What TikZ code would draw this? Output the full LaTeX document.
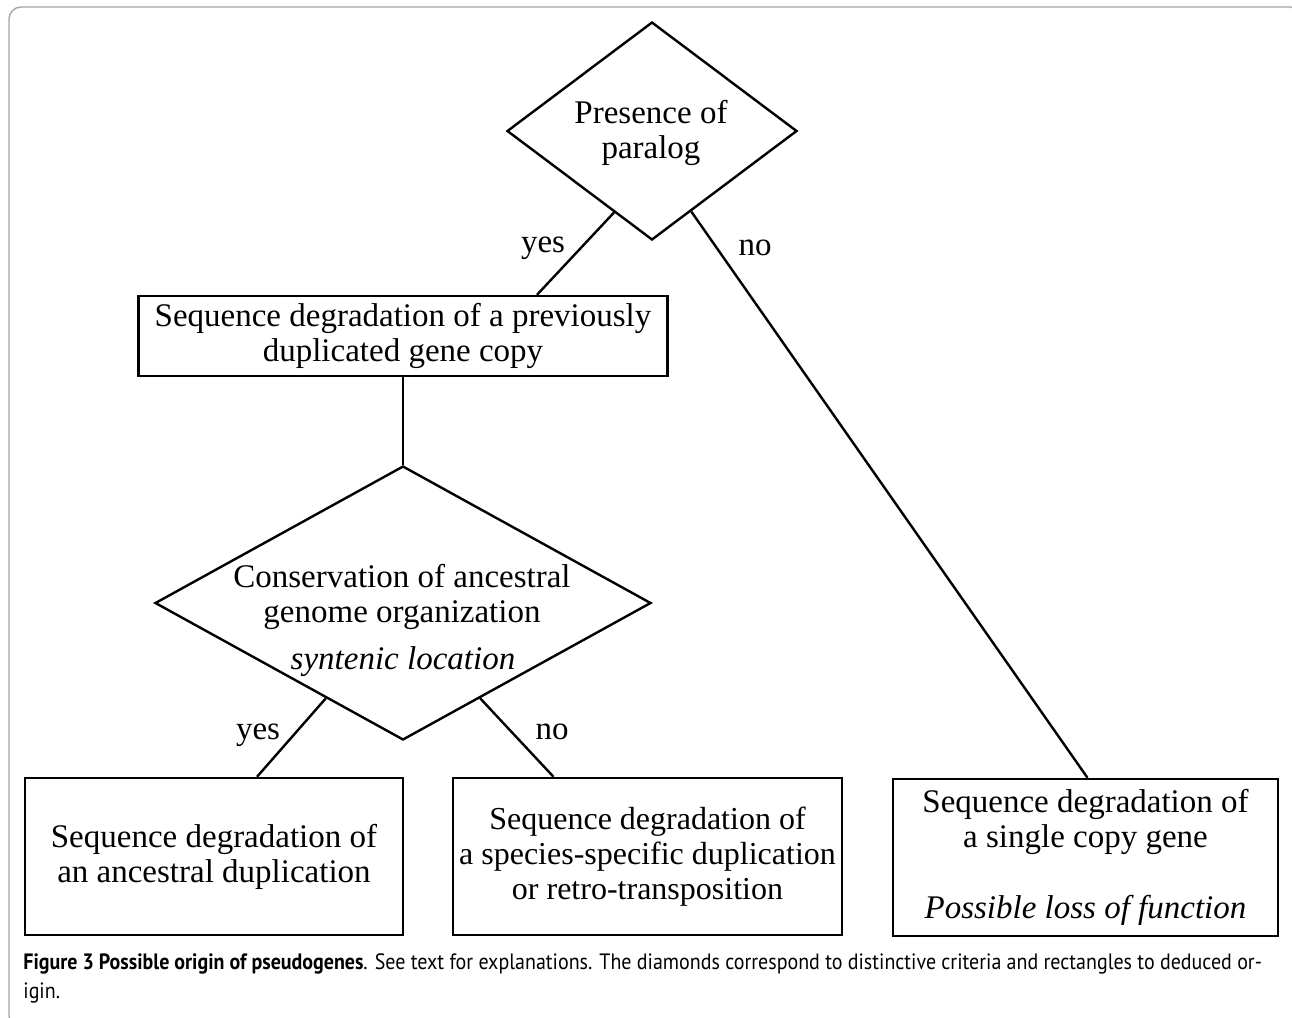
\documentclass[tikz,border=0pt]{standalone}
\usepackage{fontspec}
\setmainfont{Liberation Serif}
\newfontfamily\capfont[FakeStretch=0.9]{PT Sans}
\usetikzlibrary{shapes.geometric}

\begin{document}
\begin{tikzpicture}[x=0.5pt,y=-0.5pt,
  every node/.style={font=\fontsize{16.5}{17.5}\selectfont},
  crit/.style={draw, diamond, inner sep=0pt, line width=1.2pt},
  origin/.style={draw, rectangle, inner sep=0pt, line width=1.2pt, align=center},
  link/.style={line width=1.2pt},
  capline/.style={anchor=base west, inner sep=0pt, font=\capfont\fontsize{11.1}{14.5}\selectfont}]
\useasboundingbox (0,0) rectangle (1292,1018);
% draw the outer frame
\draw[gray!70, line width=0.7pt, rounded corners=6pt] (9,7) rectangle (1302,1028);

% draw the criteria (diamonds)
\node[crit, minimum width=145pt, minimum height=109pt] (paralog) at (652,131) {};
\node[align=center] (paralogT) at (651,133) {Presence of\\paralog};
\node[crit, minimum width=248pt, minimum height=137pt] (cons) at (403,603) {};
\node[align=center] (consT) at (402,597) {Conservation of ancestral\\genome organization};
\node (synt) at (403,662) {\itshape syntenic location};

% draw the deduced origins (rectangles)
\node[origin, minimum width=264.5pt, minimum height=40pt] (dup) at (403,336)
  {Sequence degradation of a previously\\duplicated gene copy};
\node[origin, minimum width=189pt, minimum height=78.5pt] (ancestral) at (214,856.5)
  {Sequence degradation of\\an ancestral duplication};
\node[origin, minimum width=194.5pt, minimum height=78.5pt,
  font=\fontsize{16}{17.5}\selectfont] (specific) at (647.5,856.5)
  {Sequence degradation of\\a species-specific duplication\\or retro-transposition};
\node[origin, minimum width=192.5pt, minimum height=78.5pt] (single) at (1085.5,857.5)
  {Sequence degradation of\\a single copy gene\\[18pt]\itshape Possible loss of function};

% draw the answers
\node (yesA) at (543,248) {yes};
\node (noA) at (755,248) {no};
\node (yesB) at (258,735) {yes};
\node (noB) at (552,732) {no};

% draw the connectors
\draw[link] (paralog.245) -- ([xshift=67pt]dup.north);
\draw[link] (paralog.296) -- ([xshift=1pt]single.north);
\draw[link] (dup.south) -- (cons.north);
\draw[link] (cons.231) -- ([xshift=21.5pt]ancestral.north);
\draw[link] (cons.309) -- ([xshift=-47pt]specific.north);

% draw the caption
\node[capline] (cap1) at (23,969) {\textbf{Figure 3 Possible origin of pseudogenes}. See text for explanations. The diamonds correspond to distinctive criteria and rectangles to deduced or-};
\node[capline] (cap2) at (23,998) {igin.};
\end{tikzpicture}
\end{document}
